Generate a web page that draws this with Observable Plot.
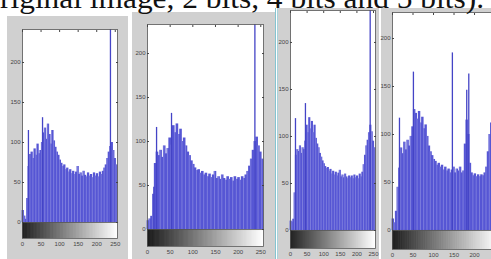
<!DOCTYPE html>
<html><head><meta charset="utf-8">
<script src="https://cdn.jsdelivr.net/npm/d3@7"></script>
<script src="https://cdn.jsdelivr.net/npm/@observablehq/plot@0.6"></script>
<style>
body{margin:0;background:#fff;}
#wrap{position:relative;width:491px;height:259px;overflow:hidden;background:#fff;}
.panel{position:absolute;}
.panel svg{display:block;max-width:none !important;}
</style></head><body>
<div id="wrap"></div>
<script>
// ---- data ----
const captionText = "riginal image, 2 bits, 4 bits and 5 bits).";
const xTicks = [0, 50, 100, 150, 200, 250];
const xTicks4 = [0, 50, 100, 150, 200]; // last panel is cut at the right edge
const yTicks = [0, 50, 100, 150, 200];
const binWidth = 4; // gray levels per bar

const counts1 = [15,8,4,30,70,85,88,80,92,84,98,86,90,100,112,118,104,123,110,98,115,102,94,88,84,78,74,70,72,66,68,63,66,61,64,60,63,70,60,62,58,64,59,57,62,58,60,56,62,58,61,57,63,60,64,68,72,80,88,95,100,90,80,72];
const spikeLevels1 = [16, 54, 237];
const spikeCounts1 = [115, 131, 300];

const counts2 = [10,12,15,40,75,88,84,90,82,95,86,92,104,96,118,110,120,108,114,100,104,95,88,84,78,74,70,67,68,64,66,62,64,60,63,59,62,66,58,60,57,62,58,56,60,57,59,55,60,57,59,56,60,58,62,66,72,80,90,100,105,95,88,80];
const spikeLevels2 = [14, 20, 53, 237];
const spikeCounts2 = [48, 116, 132, 300];

const counts3 = [10,9,12,40,80,86,84,90,82,88,86,95,112,104,120,108,116,104,112,98,92,88,82,78,74,71,68,66,67,63,65,60,63,59,62,58,61,64,57,59,56,60,57,55,58,56,58,55,59,56,58,55,60,57,62,70,80,90,96,104,112,105,95,88];
const spikeLevels3 = [15, 45, 240];
const spikeCounts3 = [119, 135, 300];

const counts4 = [12,8,20,45,65,86,80,92,84,94,88,98,108,126,122,116,124,112,118,106,110,98,88,82,78,74,72,68,70,66,68,63,66,62,64,60,63,66,60,64,62,66,60,62,90,115,100,70,60,57,59,56,58,56,58,57,60,66,82,100,112,105,95,85];
const spikeLevels4 = [17, 51, 146, 181, 186];
const spikeCounts4 = [117, 165, 185, 146, 163];

// ---- layout ----
const BLUE = "#5656d4";
const grays = d3.range(256);
const wrap = document.getElementById("wrap");

function addDiv(style){ const d=document.createElement("div"); d.style.cssText="position:absolute;"+style; wrap.appendChild(d); return d; }

function panel(cfg, counts, spikeLevels, spikeCounts, ticksX){
  const bins = counts.map((v,i)=>({x0:i*binWidth, x1:(i+1)*binWidth, v}));
  const spikes = spikeLevels.map((l,i)=>({level:l, count:spikeCounts[i]}));
  const chart = Plot.plot({
    width: cfg.w, height: cfg.h,
    marginLeft: cfg.ml, marginRight: cfg.mr, marginTop: cfg.mt, marginBottom: cfg.mb,
    style: {background:"#d0d0d0", fontFamily:"Liberation Sans", fontSize:"6px", color:"#444", overflow:"visible", maxWidth:"none"},
    x: {domain:[0,256], label:null},
    y: {domain:[cfg.yMin, cfg.yMax], label:null},
    marks: [
      Plot.frame({fill:"white", stroke:null}),
      Plot.rectY(bins, {x1:"x0", x2:"x1", y:"v", fill:BLUE, insetLeft:-0.4, insetRight:-0.4}),
      Plot.ruleX(bins.filter((d,i)=>i%2===1), {x:"x0", y1:0, y2:"v", stroke:"white", strokeOpacity:0.4, strokeWidth:0.6}),
      Plot.ruleX(spikes, {x:"level", y1:0, y2:"count", stroke:"#4444c6", strokeWidth:1.3, clip:true}),
      Plot.rect(grays, {x1:d=>d, x2:d=>d+1.5, y1:cfg.yMin, y2:0, fill:d=>`rgb(${d},${d},${d})`, clip:true}),
      Plot.ruleY([0], {stroke:"#555", strokeWidth:0.8}),
      Plot.frame({stroke:"#555", strokeWidth:0.8}),
      Plot.axisY(yTicks, {tickSize:0, tickPadding:2}),
      Plot.axisY(yTicks, {tickSize:-2, tickFormat:()=>""}),
      Plot.axisY(yTicks, {anchor:"right", tickSize:-2, tickFormat:()=>""}),
      Plot.axisX(ticksX, {anchor:"bottom", tickSize:0, tickPadding:3}),
      Plot.axisX(ticksX, {anchor:"top", tickSize:-2, tickFormat:()=>""})
    ]
  });
  const d = addDiv(`left:${cfg.left}px;top:${cfg.top}px;width:${cfg.w}px;height:${cfg.h}px;`);
  d.className = "panel";
  d.appendChild(chart);
}

panel({left:7, top:16, w:121, h:243, ml:15, mr:11, mt:13, mb:21, yMin:-20, yMax:241.25}, counts1, spikeLevels1, spikeCounts1, xTicks);
panel({left:132, top:12, w:144, h:247, ml:15, mr:13, mt:12, mb:13, yMin:-19.3, yMax:233}, counts2, spikeLevels2, spikeCounts2, xTicks);
panel({left:278, top:8, w:101, h:251, ml:12, mr:4, mt:2, mb:11, yMin:-19.15, yMax:234}, counts3, spikeLevels3, spikeCounts3, xTicks);
panel({left:381, top:8, w:124, h:251, ml:11, mr:8, mt:4, mb:10, yMin:-19.8, yMax:227.1}, counts4, spikeLevels4, spikeCounts4, xTicks4);

addDiv("left:275px;top:8px;width:1px;height:251px;background:#86c4d0;");
addDiv("left:277px;top:8px;width:1px;height:251px;background:#a8d4dc;");

// caption fragment at top
const ns = "http://www.w3.org/2000/svg";
const cap = document.createElementNS(ns, "svg");
cap.setAttribute("width", 491); cap.setAttribute("height", 16);
cap.style.cssText = "position:absolute;left:0;top:0;overflow:hidden;";
const t = document.createElementNS(ns, "text");
t.setAttribute("x", 0); t.setAttribute("y", 8);
t.setAttribute("font-family", "Liberation Serif");
t.setAttribute("font-size", 30);
t.setAttribute("textLength", 484);
t.setAttribute("lengthAdjust", "spacingAndGlyphs");
t.setAttribute("fill", "#111");
t.textContent = captionText;
cap.appendChild(t);
wrap.appendChild(cap);
</script>
</body></html>
